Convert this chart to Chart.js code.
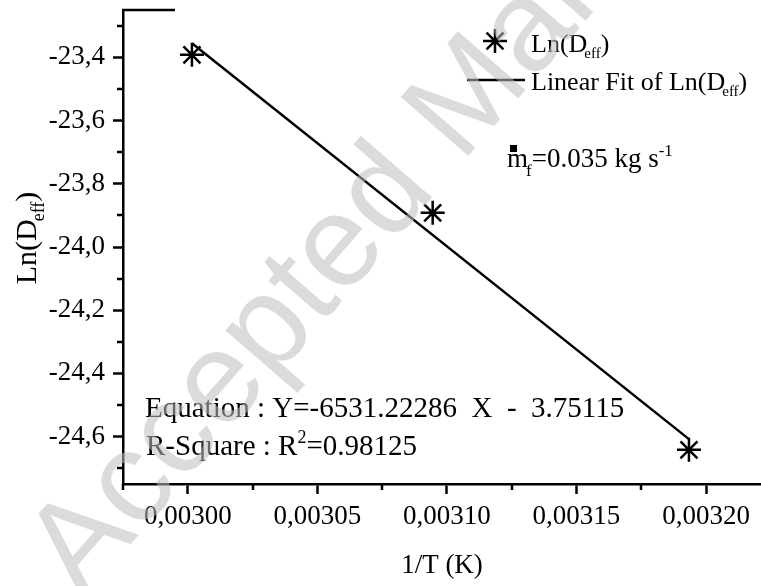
<!DOCTYPE html>
<html>
<head>
<meta charset="utf-8">
<script src="https://cdn.jsdelivr.net/npm/chart.js@4.4.1/dist/chart.umd.min.js"></script>
<style>
  html, body { margin: 0; padding: 0; background: #fff; overflow: hidden; }
  #wrap { width: 761px; height: 586px; }
</style>
</head>
<body>
<div id="wrap"><canvas id="chart" width="761" height="586"></canvas></div>
<script>
// datos: Ln(Deff) frente a 1/T
const invT = [0.0030016, 0.0030945, 0.0031934];
const lnDeff = [-23.392, -23.892, -24.642];
// recta de ajuste (extremos leidos)
const fitX = [0.0030016, 0.0031934];
const fitY = [-23.355, -24.608];

const xTicks = [0.00300, 0.00305, 0.00310, 0.00315, 0.00320];
const xMinorTicks = [0.002975, 0.003025, 0.003075, 0.003125, 0.003175];
const yTicks = [-23.4, -23.6, -23.8, -24.0, -24.2, -24.4, -24.6];
const yMinorTicks = [-23.3, -23.5, -23.7, -23.9, -24.1, -24.3, -24.5, -24.7];

const SERIF = '"Liberation Serif", "Times New Roman", serif';
const BIG = 27;
const SMALL = 17;

// dibuja un texto con trozos de distinto tamano (subindices / superindices)
function drawRuns(ctx, x, y, runs) {
    let cx = x;
    runs.forEach(r => {
        ctx.font = `${r.size || BIG}px ${SERIF}`;
        cx += r.dx || 0;
        ctx.fillText(r.t, cx, y + (r.dy || 0));
        cx += ctx.measureText(r.t).width;
    });
    return cx;
}

function runsWidth(ctx, runs) {
    let w = 0;
    runs.forEach(r => {
        ctx.font = `${r.size || BIG}px ${SERIF}`;
        w += ctx.measureText(r.t).width + (r.dx || 0);
    });
    return w;
}

function drawStar(ctx, x, y) {
    if (Chart.helpers && Chart.helpers.drawPoint) {
        Chart.helpers.drawPoint(ctx, { pointStyle: 'star', radius: 12, borderWidth: 2.5, rotation: 0 }, x, y);
        return;
    }
    const r = 12;
    ctx.beginPath();
    for (let k = 0; k < 4; k++) {
        const a = k * Math.PI / 4;
        ctx.moveTo(x - r * Math.cos(a), y - r * Math.sin(a));
        ctx.lineTo(x + r * Math.cos(a), y + r * Math.sin(a));
    }
    ctx.stroke();
}

const decorPlugin = {
    id: 'decor',
    afterDraw(chart) {
        const ctx = chart.ctx;
        const area = chart.chartArea;
        const xs = chart.scales.x;
        const ys = chart.scales.y;

        ctx.save();
        ctx.strokeStyle = '#000';
        ctx.fillStyle = '#000';
        ctx.lineWidth = 2.5;

        // ticks menores
        ctx.beginPath();
        xMinorTicks.forEach(v => {
            const px = Math.round(xs.getPixelForValue(v));
            ctx.moveTo(px, area.bottom);
            ctx.lineTo(px, area.bottom + 6);
        });
        yMinorTicks.forEach(v => {
            const py = Math.round(ys.getPixelForValue(v));
            ctx.moveTo(area.left, py);
            ctx.lineTo(area.left - 6, py);
        });
        // trozo del marco superior
        ctx.moveTo(area.left - 1, area.top);
        ctx.lineTo(area.left + 52, area.top);
        ctx.stroke();

        ctx.textBaseline = 'alphabetic';
        ctx.textAlign = 'left';

        // titulo eje Y
        const yTitle = [{ t: 'Ln(D', size: 30 }, { t: 'eff', size: 18, dy: 8, dx: -2 }, { t: ')', size: 30 }];
        ctx.save();
        ctx.translate(36, 238);
        ctx.rotate(-Math.PI / 2);
        drawRuns(ctx, -runsWidth(ctx, yTitle) / 2, 0, yTitle);
        ctx.restore();

        // leyenda
        drawStar(ctx, 495, 41);
        drawRuns(ctx, 531, 52, [{ t: 'Ln(D', size: 26 }, { t: 'eff', size: 15, dy: 6, dx: -3 }, { t: ')', size: 26 }]);
        ctx.beginPath();
        ctx.moveTo(467, 80);
        ctx.lineTo(525, 80);
        ctx.stroke();
        drawRuns(ctx, 531, 90, [{ t: 'Linear Fit of Ln(D', size: 26 }, { t: 'eff', size: 15, dy: 6, dx: -3 }, { t: ')', size: 26 }]);

        // caudal masico
        ctx.fillRect(510, 145, 7, 7);
        drawRuns(ctx, 507, 167, [
            { t: 'm' }, { t: 'f', size: SMALL, dy: 9, dx: -2 }, { t: '=0.035 kg s' }, { t: '-1', size: SMALL, dy: -11 }
        ]);

        // ecuacion del ajuste
        drawRuns(ctx, 145, 417, [{ t: 'Equation : Y=-6531.22286  X  -  3.75115', size: 29 }]);
        drawRuns(ctx, 146, 455, [
            { t: 'R-Square : R', size: 29 }, { t: '2', size: 18, dy: -12 }, { t: '=0.98125', size: 29 }
        ]);

        // marca de agua
        ctx.save();
        ctx.translate(82, 600);
        ctx.rotate(-49 * Math.PI / 180);
        ctx.font = '130px "Liberation Sans", Arial, sans-serif';
        ctx.fillStyle = 'rgba(190, 190, 190, 0.55)';
        ctx.fillText('Accepted Manuscript', 0, 0);
        ctx.restore();

        ctx.restore();
    }
};

const ctx = document.getElementById('chart').getContext('2d');

new Chart(ctx, {
    type: 'scatter',
    data: {
        datasets: [
            {
                label: 'Ln(Deff)',
                data: invT.map((x, i) => ({ x: x, y: lnDeff[i] })),
                showLine: false,
                pointStyle: 'star',
                pointRadius: 12,
                pointBorderWidth: 2.5,
                borderColor: '#000',
                backgroundColor: '#000',
                order: 1
            },
            {
                label: 'Linear Fit of Ln(Deff)',
                data: fitX.map((x, i) => ({ x: x, y: fitY[i] })),
                showLine: true,
                borderColor: '#000',
                borderWidth: 2.5,
                pointRadius: 0,
                order: 2
            }
        ]
    },
    options: {
        responsive: false,
        animation: false,
        layout: { autoPadding: false, padding: { top: 10, right: 0, bottom: 0, left: 0 } },
        plugins: {
            legend: { display: false },
            tooltip: { enabled: false }
        },
        scales: {
            x: {
                type: 'linear',
                min: 0.002975,
                max: 0.0032212,
                afterBuildTicks: s => { s.ticks = xTicks.map(v => ({ value: v })); },
                afterFit: s => { s.height = 102; s.paddingLeft = 0; s.paddingRight = 0; },
                ticks: {
                    callback: v => v.toFixed(5).replace('.', ','),
                    font: { family: SERIF, size: BIG },
                    color: '#000',
                    padding: 7,
                    maxRotation: 0,
                    autoSkip: false
                },
                grid: { drawOnChartArea: false, drawTicks: true, tickLength: 10, tickWidth: 2.5, tickColor: '#000' },
                border: { display: true, color: '#000', width: 2.5 },
                title: {
                    display: true,
                    text: '1/T (K)',
                    font: { family: SERIF, size: BIG },
                    color: '#000',
                    padding: { top: 0, bottom: 4 }
                }
            },
            y: {
                type: 'linear',
                min: -24.75,
                max: -23.25,
                afterBuildTicks: s => { s.ticks = yTicks.map(v => ({ value: v })); },
                afterFit: s => { s.width = 123; s.paddingTop = 0; s.paddingBottom = 0; },
                ticks: {
                    callback: v => v.toFixed(1).replace('.', ','),
                    font: { family: SERIF, size: BIG },
                    color: '#000',
                    padding: 8,
                    autoSkip: false
                },
                grid: { drawOnChartArea: false, drawTicks: true, tickLength: 10, tickWidth: 2.5, tickColor: '#000' },
                border: { display: true, color: '#000', width: 2.5 }
            }
        }
    },
    plugins: [decorPlugin]
});
</script>
</body>
</html>
